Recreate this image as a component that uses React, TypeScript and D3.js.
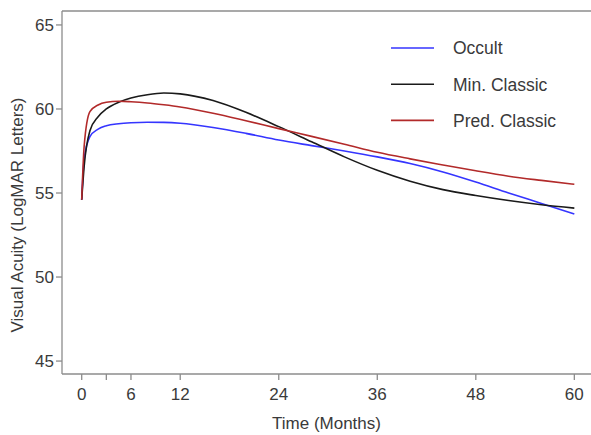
import * as d3 from 'd3';
import { useEffect, useRef } from 'react';

// months since baseline
const months = [0, 0.3, 1, 2, 3, 4.5, 6, 8, 10, 12, 16, 20, 24, 28, 32, 36, 40, 44, 48, 52, 56, 60];

const occult = [54.6, 57.0, 58.35, 58.8, 59.0, 59.12, 59.18, 59.21, 59.2, 59.15, 58.9, 58.55, 58.15, 57.82, 57.5, 57.15, 56.75, 56.25, 55.65, 55.0, 54.38, 53.75];
const minClassic = [54.6, 56.6, 58.7, 59.54, 60.0, 60.4, 60.65, 60.85, 60.95, 60.9, 60.5, 59.8, 58.95, 58.05, 57.15, 56.35, 55.7, 55.2, 54.85, 54.55, 54.3, 54.1];
const predClassic = [54.6, 57.8, 59.84, 60.24, 60.4, 60.46, 60.43, 60.36, 60.25, 60.12, 59.75, 59.3, 58.83, 58.37, 57.9, 57.42, 57.03, 56.67, 56.32, 56.0, 55.75, 55.52];

const seriesNames = ['Occult', 'Min. Classic', 'Pred. Classic'];
const seriesColors = ['#3535ff', '#1a1a1a', '#b22a2a'];

const xTicks = [0, 6, 12, 24, 36, 48, 60];
const xMinorTicks = [3];
const yTicks = [45, 50, 55, 60, 65];

const App = () => {
  const svgRef = useRef<SVGSVGElement | null>(null);

  useEffect(() => {
    document.body.style.margin = '0';

    const width = 591;
    const height = 435;
    const margin = { top: 11, right: 0, bottom: 61, left: 62 };
    const font = '"Liberation Sans", Arial, sans-serif';
    const axisColor = '#8c8c8c';
    const textColor = '#3a3a3a';

    const x = d3.scaleLinear().domain([-2.4, 62.03]).range([margin.left, width - margin.right]);
    const y = d3.scaleLinear().domain([44.23, 65.83]).range([height - margin.bottom, margin.top]);

    const svg = d3.select(svgRef.current).attr('width', width).attr('height', height);
    svg.selectAll('*').remove();

    // frame: left axis, top border, bottom axis
    const frame = svg.append('g').attr('stroke', axisColor).attr('stroke-width', 1.3);
    frame.append('line')
      .attr('x1', margin.left).attr('x2', margin.left)
      .attr('y1', margin.top).attr('y2', height - margin.bottom);
    frame.append('line')
      .attr('x1', margin.left).attr('x2', width)
      .attr('y1', margin.top).attr('y2', margin.top);
    frame.append('line')
      .attr('x1', margin.left).attr('x2', width)
      .attr('y1', height - margin.bottom).attr('y2', height - margin.bottom);

    // x ticks
    const xb = height - margin.bottom;
    [...xTicks, ...xMinorTicks].forEach((t) => {
      frame.append('line').attr('x1', x(t)).attr('x2', x(t)).attr('y1', xb).attr('y2', xb + 6);
    });
    svg.append('g').selectAll('text').data(xTicks).join('text')
      .attr('x', (d) => x(d))
      .attr('y', xb + 26)
      .attr('text-anchor', 'middle')
      .attr('font-family', font).attr('font-size', 17).attr('fill', textColor)
      .text((d) => d);

    // y ticks
    yTicks.forEach((v) => {
      frame.append('line').attr('x1', margin.left - 6).attr('x2', margin.left).attr('y1', y(v)).attr('y2', y(v));
    });
    svg.append('g').selectAll('text').data(yTicks).join('text')
      .attr('x', margin.left - 8)
      .attr('y', (d) => y(d))
      .attr('dy', '0.36em')
      .attr('text-anchor', 'end')
      .attr('font-family', font).attr('font-size', 17).attr('fill', textColor)
      .text((d) => d);

    // axis titles
    svg.append('text')
      .attr('x', (margin.left + width) / 2)
      .attr('y', 429)
      .attr('text-anchor', 'middle')
      .attr('font-family', font).attr('font-size', 17).attr('fill', textColor)
      .text('Time (Months)');
    svg.append('text')
      .attr('transform', 'translate(23,215) rotate(-90)')
      .attr('text-anchor', 'middle')
      .attr('font-family', font).attr('font-size', 17).attr('fill', textColor)
      .text('Visual Acuity (LogMAR Letters)');

    // curves
    const allSeries = [occult, minClassic, predClassic];
    const line = d3.line<number>()
      .x((_, i) => x(months[i]))
      .y((d) => y(d))
      .curve(d3.curveMonotoneX);

    allSeries.forEach((s, i) => {
      svg.append('path')
        .datum(s)
        .attr('fill', 'none')
        .attr('stroke', seriesColors[i])
        .attr('stroke-width', 1.6)
        .attr('d', line);
    });

    // legend
    const legend = svg.append('g');
    seriesNames.forEach((name, i) => {
      const ly = 48 + i * 36.2;
      legend.append('line')
        .attr('x1', 391).attr('x2', 434)
        .attr('y1', ly).attr('y2', ly)
        .attr('stroke', seriesColors[i]).attr('stroke-width', 1.6);
      legend.append('text')
        .attr('x', 453)
        .attr('y', ly)
        .attr('dy', '0.36em')
        .attr('font-family', font).attr('font-size', 17.5).attr('fill', textColor)
        .text(name);
    });
  }, []);

  return <svg ref={svgRef}></svg>;
};

export default App;
